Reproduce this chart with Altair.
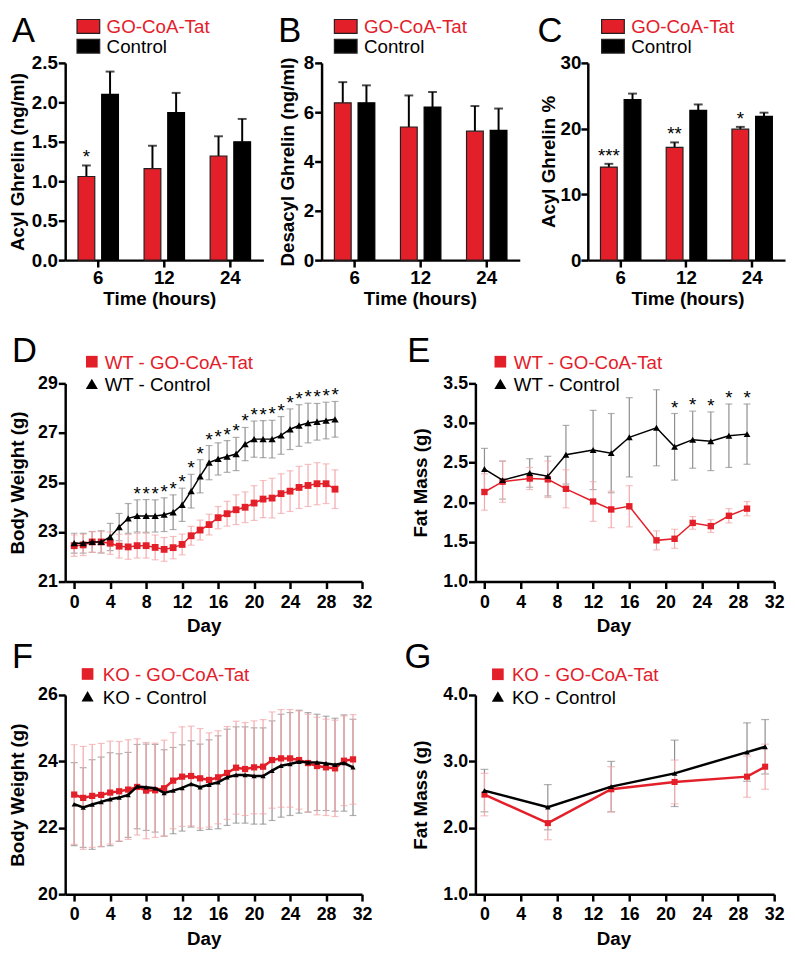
import altair as alt
import pandas as pd

FONT = "Liberation Sans"
RED = "#e3202a"
DARK = "#231f20"
PINK = "#f2a7a9"
GREY = "#8e8e8e"
W, H = 786, 942

# ---------------- data ----------------
hours = ["6", "12", "24"]
bar_groups = ["GO-CoA-Tat", "Control"]

acyl_go = [1.06, 1.16, 1.32]
acyl_go_err = [0.14, 0.29, 0.25]
acyl_ctrl = [2.10, 1.87, 1.50]
acyl_ctrl_err = [0.29, 0.25, 0.29]
acyl_sig = ["*", "", ""]

desacyl_go = [6.38, 5.40, 5.23]
desacyl_go_err = [0.84, 1.28, 1.02]
desacyl_ctrl = [6.38, 6.21, 5.26]
desacyl_ctrl_err = [0.71, 0.61, 0.89]
desacyl_sig = ["", "", ""]

pct_go = [14.15, 17.16, 19.92]
pct_go_err = [0.50, 0.75, 0.35]
pct_ctrl = [24.43, 22.78, 21.88]
pct_ctrl_err = [0.90, 0.90, 0.55]
pct_sig = ["***", "**", "*"]

wt_bw_days = [0, 1, 2, 3, 4, 5, 6, 7, 8, 9, 10, 11, 12, 13, 14, 15, 16, 17, 18, 19,
              20, 21, 22, 23, 24, 25, 26, 27, 28, 29]
wt_bw_go = [22.45, 22.48, 22.60, 22.60, 22.55, 22.43, 22.40, 22.45, 22.45, 22.38,
            22.30, 22.37, 22.50, 22.85, 23.08, 23.30, 23.58, 23.74, 23.90, 24.00,
            24.17, 24.33, 24.37, 24.55, 24.65, 24.80, 24.88, 24.95, 24.95, 24.73]
wt_bw_go_err = [0.43, 0.43, 0.42, 0.42, 0.45, 0.48, 0.50, 0.50, 0.50, 0.50,
                0.48, 0.45, 0.42, 0.38, 0.40, 0.42, 0.45, 0.50, 0.60, 0.62,
                0.70, 0.75, 0.80, 0.80, 0.82, 0.85, 0.85, 0.85, 0.80, 0.78]
wt_bw_ctrl = [22.55, 22.55, 22.60, 22.60, 22.80, 23.20, 23.55, 23.65, 23.65, 23.65,
              23.70, 23.80, 24.10, 24.65, 25.25, 25.80, 25.95, 26.05, 26.15, 26.55,
              26.75, 26.75, 26.75, 26.90, 27.15, 27.30, 27.40, 27.45, 27.50, 27.55]
wt_bw_ctrl_err = [0.40, 0.40, 0.42, 0.45, 0.55, 0.55, 0.60, 0.65, 0.66, 0.65,
                  0.68, 0.70, 0.67, 0.68, 0.67, 0.69, 0.65, 0.64, 0.67, 0.67,
                  0.73, 0.75, 0.76, 0.76, 0.82, 0.84, 0.80, 0.74, 0.74, 0.72]
wt_bw_sig_days = [7, 8, 9, 10, 11, 12, 13, 14, 15, 16, 17, 18, 19, 20, 21, 22, 23,
                  24, 25, 26, 27, 28, 29]

wt_fat_days = [0, 2, 5, 7, 9, 12, 14, 16, 19, 21, 23, 25, 27, 29]
wt_fat_go = [2.13, 2.26, 2.30, 2.29, 2.17, 2.01, 1.91, 1.95, 1.52, 1.54, 1.74, 1.70, 1.83, 1.92]
wt_fat_go_err = [0.23, 0.26, 0.14, 0.23, 0.24, 0.25, 0.23, 0.26, 0.12, 0.12, 0.08, 0.08, 0.09, 0.09]
wt_fat_ctrl = [2.42, 2.28, 2.37, 2.33, 2.60, 2.66, 2.62, 2.82, 2.94, 2.70, 2.79, 2.77, 2.84, 2.86]
wt_fat_ctrl_err = [0.26, 0.24, 0.18, 0.25, 0.37, 0.50, 0.50, 0.50, 0.48, 0.42, 0.36, 0.37, 0.40, 0.38]
wt_fat_sig_days = [21, 23, 25, 27, 29]

ko_bw_days = [0, 1, 2, 3, 4, 5, 6, 7, 8, 9, 10, 11, 12, 13, 14, 15, 16, 17, 18, 19,
              20, 21, 22, 23, 24, 25, 26, 27, 28, 29, 30, 31]
ko_bw_go = [23.00, 22.90, 22.96, 22.99, 23.06, 23.10, 23.15, 23.23, 23.12, 23.13,
            23.19, 23.42, 23.54, 23.56, 23.49, 23.44, 23.52, 23.65, 23.81, 23.77,
            23.82, 23.84, 24.04, 24.09, 24.09, 24.04, 23.95, 23.86, 23.82, 23.79,
            24.02, 24.06]
ko_bw_go_err = [1.50, 1.55, 1.55, 1.55, 1.55, 1.50, 1.50, 1.45, 1.45, 1.42,
                1.45, 1.45, 1.50, 1.50, 1.50, 1.42, 1.40, 1.40, 1.40, 1.40,
                1.40, 1.42, 1.45, 1.47, 1.47, 1.48, 1.47, 1.47, 1.45, 1.45,
                1.35, 1.35]
ko_bw_ctrl = [22.71, 22.61, 22.70, 22.78, 22.86, 22.91, 22.99, 23.24, 23.22, 23.19,
              23.05, 23.12, 23.20, 23.32, 23.22, 23.30, 23.37, 23.52, 23.59, 23.59,
              23.56, 23.56, 23.72, 23.87, 23.92, 23.99, 23.97, 23.97, 23.94, 23.90,
              23.95, 23.82]
ko_bw_ctrl_err = [1.25, 1.20, 1.35, 1.35, 1.40, 1.32, 1.28, 1.27, 1.30, 1.32,
                  1.30, 1.30, 1.30, 1.30, 1.30, 1.35, 1.40, 1.45, 1.45, 1.45,
                  1.45, 1.45, 1.50, 1.55, 1.55, 1.55, 1.50, 1.45, 1.42, 1.40,
                  1.45, 1.45]

ko_fat_days = [0, 7, 14, 21, 29, 31]
ko_fat_go = [2.50, 2.07, 2.58, 2.69, 2.77, 2.92]
ko_fat_go_err = [0.32, 0.25, 0.34, 0.33, 0.31, 0.34]
ko_fat_ctrl = [2.56, 2.31, 2.62, 2.82, 3.14, 3.22]
ko_fat_ctrl_err = [0.32, 0.34, 0.38, 0.50, 0.44, 0.41]

day_ticks = [0, 4, 8, 12, 16, 20, 24, 28, 32]

ONE = alt.Data(values=[{}])


# ---------------- helpers ----------------
def bar_panel(go, go_err, ctrl, ctrl_err, sig, x0, x1, ymax, yvals, yfmt,
              ytitle, ytitle_x, xtitle_x, ylabel_pad=1):
    y0, y1 = 249, 49
    sx = alt.Scale(domain=hours, range=[x0, x1], paddingInner=0.385, paddingOuter=0.1925)
    sy = alt.Scale(domain=[0, ymax], range=[y0, y1], nice=False)
    ax = alt.Axis(orient="bottom", offset=y0 - H, title="Time (hours)", labelAngle=0,
                  labelPadding=1.5, labelFontSize=19, titleX=xtitle_x, titleY=30,
                  labelFlush=False)
    ay = alt.Axis(orient="left", offset=-x0, title=ytitle, values=yvals, format=yfmt,
                  labelPadding=ylabel_pad, labelFontSize=19, titleX=ytitle_x)
    X = alt.X("hour:N", scale=sx, axis=ax, sort=hours)

    def Y(f):
        return alt.Y(f, scale=sy, axis=ay)

    layers = []
    specs = [(go, go_err, sig, -12, RED, DARK), (ctrl, ctrl_err, None, 12, "black", "black")]
    for vals, errs, s, dx, fill, stroke in specs:
        df = pd.DataFrame({"hour": hours, "v": vals, "e": errs})
        if s is not None:
            df["sig"] = s
        base = alt.Chart(df).transform_calculate(top="datum.v + datum.e")
        layers.append(base.mark_rule(xOffset=dx, strokeWidth=2, color="black")
                      .encode(x=X, y=Y("v:Q"), y2="top:Q"))
        layers.append(base.mark_tick(xOffset=dx, size=9, thickness=2, color="black",
                                     orient="horizontal")
                      .encode(x=X, y=Y("top:Q")))
        layers.append(base.mark_bar(width=17, xOffset=dx, color=fill, stroke=stroke,
                                    strokeWidth=1.2)
                      .encode(x=X, y=Y("v:Q")))
        if s is not None:
            layers.append(base.mark_text(xOffset=dx, dy=-2, baseline="alphabetic",
                                         align="center", fontSize=19, font=FONT,
                                         color="black")
                          .encode(x=X, y=Y("top:Q"), text="sig:N"))
    return alt.layer(*layers)


def line_panel(days, go, go_err, ctrl, ctrl_err, sig_days, x0, x1, y0, y1, ydom,
               yvals, yfmt, ytitle, ytitle_x, xtitle_x, sq_size, tri_size, lw, cap):
    sx = alt.Scale(domain=[-1, 32], range=[x0, x1], nice=False, zero=False)
    sy = alt.Scale(domain=ydom, range=[y0, y1], nice=False, zero=False)
    ax = alt.Axis(orient="bottom", offset=y0 - H, title="Day", values=day_ticks,
                  labelPadding=5, titleX=xtitle_x, titleY=36, labelFlush=False,
                  labelOverlap=False)
    ay = alt.Axis(orient="left", offset=-x0, title=ytitle, values=yvals, format=yfmt,
                  labelPadding=1, titleX=ytitle_x, labelOverlap=False)
    X = alt.X("day:Q", scale=sx, axis=ax)

    def Y(f):
        return alt.Y(f, scale=sy, axis=ay)

    df_go = pd.DataFrame({"day": days, "v": go, "e": go_err})
    df_ct = pd.DataFrame({"day": days, "v": ctrl, "e": ctrl_err})
    df_ct["sig"] = ["*" if d in sig_days else "" for d in days]
    b_go = alt.Chart(df_go).transform_calculate(lo="datum.v - datum.e", hi="datum.v + datum.e")
    b_ct = alt.Chart(df_ct).transform_calculate(lo="datum.v - datum.e", hi="datum.v + datum.e")

    layers = []
    for base, ec in [(b_ct, GREY), (b_go, PINK)]:
        layers.append(base.mark_rule(color=ec, strokeWidth=1.2)
                      .encode(x=X, y=Y("lo:Q"), y2="hi:Q"))
        for f in ["lo:Q", "hi:Q"]:
            layers.append(base.mark_tick(orient="horizontal", size=cap, thickness=1.2,
                                         color=ec)
                          .encode(x=X, y=Y(f)))
    layers.append(b_go.mark_line(color=RED, strokeWidth=lw).encode(x=X, y=Y("v:Q")))
    layers.append(b_go.mark_point(shape="square", filled=True, size=sq_size, color=RED,
                                  opacity=1, strokeWidth=0)
                  .encode(x=X, y=Y("v:Q")))
    layers.append(b_ct.mark_line(color="black", strokeWidth=lw).encode(x=X, y=Y("v:Q")))
    layers.append(b_ct.mark_point(shape="triangle-up", filled=True, size=tri_size,
                                  color="black", opacity=1, strokeWidth=0)
                  .encode(x=X, y=Y("v:Q")))
    if sig_days:
        layers.append(b_ct.mark_text(baseline="alphabetic", align="center", fontSize=19,
                                     font=FONT, color="black")
                      .encode(x=X, y=Y("hi:Q"), text="sig:N"))
    return alt.layer(*layers)


def letter(ch, x, y):
    return alt.Chart(ONE).mark_text(text=ch, font=FONT, fontSize=35, align="left",
                                    baseline="top", color="black").encode(
        x=alt.value(x), y=alt.value(y))


def bar_legend(x):
    out = []
    for i, (lab, col) in enumerate(zip(bar_groups, [RED, "black"])):
        y = 5 + 20 * i
        out.append(alt.Chart(ONE).mark_rect(fill=col, stroke=DARK, strokeWidth=1.2).encode(
            x=alt.value(x), x2=alt.value(x + 23), y=alt.value(y), y2=alt.value(y + 14)))
        out.append(alt.Chart(ONE).mark_text(text=lab, font=FONT, fontSize=19, align="left",
                                            baseline="middle", color=col).encode(
            x=alt.value(x + 30), y=alt.value(y + 7.8)))
    return out


def sym_legend(x, y, tx, labels):
    out = []
    out.append(alt.Chart(ONE).mark_point(shape="square", filled=True, size=140, color=RED,
                                         opacity=1, strokeWidth=0).encode(
        x=alt.value(x), y=alt.value(y)))
    out.append(alt.Chart(ONE).mark_point(shape="triangle-up", filled=True, size=150,
                                         color="black", opacity=1, strokeWidth=0).encode(
        x=alt.value(x), y=alt.value(y + 22.5)))
    out.append(alt.Chart(ONE).mark_text(text=labels[0], font=FONT, fontSize=19, align="left",
                                        baseline="middle", color=RED).encode(
        x=alt.value(tx), y=alt.value(y + 1)))
    out.append(alt.Chart(ONE).mark_text(text=labels[1], font=FONT, fontSize=19, align="left",
                                        baseline="middle", color="black").encode(
        x=alt.value(tx), y=alt.value(y + 24)))
    return out


# ---------------- panels ----------------
pA = bar_panel(acyl_go, acyl_go_err, acyl_ctrl, acyl_ctrl_err, acyl_sig, 54, 255, 2.5,
               [0, 0.5, 1.0, 1.5, 2.0, 2.5], ".1f", "Acyl Ghrelin (ng/ml)", -38.7, 149.5)
pB = bar_panel(desacyl_go, desacyl_go_err, desacyl_ctrl, desacyl_ctrl_err, desacyl_sig,
               314, 515, 8, [0, 2, 4, 6, 8], "d", "Desacyl Ghrelin (ng/ml)", -24, 413.7)
pC = bar_panel(pct_go, pct_go_err, pct_ctrl, pct_ctrl_err, pct_sig, 584, 784, 30,
               [0, 10, 20, 30], "d", "Acyl Ghrelin %", -30, 685, ylabel_pad=0)

pD = line_panel(wt_bw_days, wt_bw_go, wt_bw_go_err, wt_bw_ctrl, wt_bw_ctrl_err,
                wt_bw_sig_days, 54, 355, 575, 374, [21, 29], [21, 23, 25, 27, 29], "d",
                "Body Weight (g)", -38.7, 194.5, 48, 55, 1.5, 7)
pE = line_panel(wt_fat_days, wt_fat_go, wt_fat_go_err, wt_fat_ctrl, wt_fat_ctrl_err,
                wt_fat_sig_days, 470, 773, 575, 374, [1.0, 3.5],
                [1.0, 1.5, 2.0, 2.5, 3.0, 3.5], ".1f", "Fat Mass (g)", -46, 610,
                42, 48, 1.5, 7)
pF = line_panel(ko_bw_days, ko_bw_go, ko_bw_go_err, ko_bw_ctrl, ko_bw_ctrl_err,
                [], 54, 355, 892, 690, [20, 26], [20, 22, 24, 26], "d",
                "Body Weight (g)", -38.7, 194.5, 40, 28, 2.5, 7)
pG = line_panel(ko_fat_days, ko_fat_go, ko_fat_go_err, ko_fat_ctrl, ko_fat_ctrl_err,
                [], 470, 773, 892, 690, [1.0, 4.0], [1.0, 2.0, 3.0, 4.0], ".1f",
                "Fat Mass (g)", -46, 610, 38, 32, 2.5, 8)

decor = []
decor += [letter("A", 0, 0), letter("B", 270, 0), letter("C", 533, 0),
          letter("D", 0, 324.5), letter("E", 401, 324.5),
          letter("F", 0, 634.5), letter("G", 398, 634.5)]
decor += bar_legend(66) + bar_legend(327) + bar_legend(598)
decor += sym_legend(81, 352, 94, ["WT - GO-CoA-Tat", "WT - Control"])
decor += sym_legend(495.3, 352, 509, ["WT - GO-CoA-Tat", "WT - Control"])
decor += sym_legend(76.7, 668.7, 92, ["KO - GO-CoA-Tat", "KO - Control"])
decor += sym_legend(492.8, 669, 507, ["KO - GO-CoA-Tat", "KO - Control"])

chart = (
    alt.layer(pA, pB, pC, pD, pE, pF, pG, *decor)
    .resolve_scale(x="independent", y="independent")
    .properties(width=W, height=H, padding=0, background="white")
    .configure_view(stroke=None)
    .configure_axis(
        grid=False,
        domainColor="black", domainWidth=2.5,
        tickColor="black", tickWidth=2.5, tickSize=7,
        labelFont=FONT, labelFontWeight="bold", labelFontSize=18, labelColor="black",
        titleFont=FONT, titleFontWeight="bold", titleFontSize=19, titleColor="black",
    )
)

chart.save("out.html", embed_options={"renderer": "svg", "actions": False})
